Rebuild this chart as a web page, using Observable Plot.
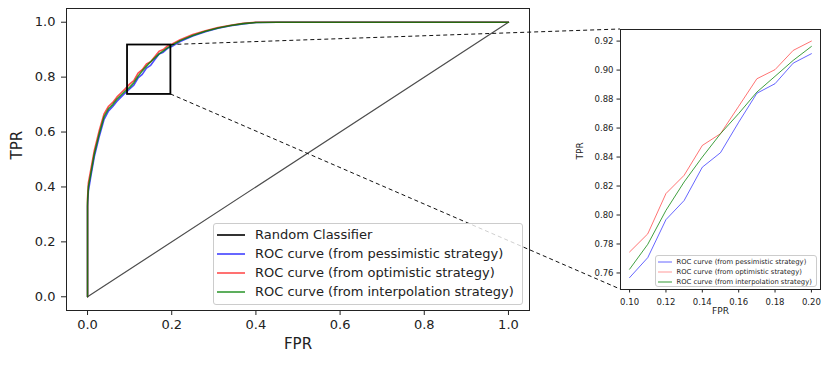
<!DOCTYPE html>
<html><head><meta charset="utf-8">
<script src="https://cdn.jsdelivr.net/npm/d3@7"></script>
<script src="https://cdn.jsdelivr.net/npm/@observablehq/plot@0.6"></script>
<style>
html,body{margin:0;padding:0;background:#fff;}
#wrap{position:relative;width:831px;height:367px;font-family:"DejaVu Sans",sans-serif;overflow:hidden;background:#fff;}
#main,#inset{position:absolute;top:0;}
#main{left:0;} #inset{left:560px;}
#over{position:absolute;left:0;top:0;pointer-events:none;}
.legend{position:absolute;background:rgba(255,255,255,0.8);border:1px solid #cccccc;border-radius:3px;box-sizing:border-box;color:#222;}
.row{display:flex;align-items:center;white-space:nowrap;}
.sw{flex:none;}
</style></head><body>
<div id="wrap"><div id="main"></div><div id="inset"></div><svg id="over" width="831" height="367"></svg></div>
<script>
// ---------- data ----------
const seriesNames = ["Random Classifier", "ROC curve (from pessimistic strategy)", "ROC curve (from optimistic strategy)", "ROC curve (from interpolation strategy)"];
const seriesColors = ["#000000", "#0000ff", "#ff0000", "#008000"];
const seriesOpacity = [0.7, 0.7, 0.7, 0.8];

const randomFpr = [0, 1];
const randomTpr = [0, 1];

// main ROC curves: head, zoomed segment, tail
const fprHead = [0, 0, 0.002, 0.008, 0.016, 0.028, 0.039, 0.05, 0.06, 0.07, 0.08, 0.09];
const tprPessHead = [0, 0.33, 0.385, 0.44, 0.51, 0.585, 0.645, 0.677, 0.693, 0.712, 0.728, 0.743];
const tprOptHead  = [0, 0.36, 0.415, 0.465, 0.532, 0.607, 0.665, 0.694, 0.708, 0.728, 0.743, 0.758];
const tprIntHead  = [0, 0.345, 0.40, 0.45, 0.52, 0.595, 0.655, 0.685, 0.70, 0.72, 0.735, 0.75];

const fprZoom = [0.10, 0.11, 0.12, 0.13, 0.14, 0.15, 0.16, 0.17, 0.18, 0.19, 0.20];
const tprPessZoom = [0.7568, 0.7706, 0.7968, 0.810, 0.833, 0.8430, 0.864, 0.884, 0.8906, 0.9048, 0.9113];
const tprOptZoom  = [0.7745, 0.787, 0.8148, 0.8274, 0.848, 0.8561, 0.875, 0.894, 0.9003, 0.9136, 0.920];
const tprIntZoom  = [0.7626, 0.7798, 0.8032, 0.8228, 0.840, 0.8561, 0.870, 0.8848, 0.8957, 0.9067, 0.9163];

const fprTail = [0.22, 0.25, 0.28, 0.31, 0.34, 0.37, 0.40, 0.45, 1.0];
const tprPessTail = [0.930, 0.950, 0.965, 0.978, 0.987, 0.994, 0.999, 1.0, 1.0];
const tprOptTail  = [0.936, 0.955, 0.969, 0.981, 0.989, 0.996, 1.0, 1.0, 1.0];
const tprIntTail  = [0.933, 0.952, 0.967, 0.979, 0.988, 0.995, 0.999, 1.0, 1.0];

const mainTicks = [0, 0.2, 0.4, 0.6, 0.8, 1.0];
const insetXTicks = [0.10, 0.12, 0.14, 0.16, 0.18, 0.20];
const insetYTicks = [0.76, 0.78, 0.80, 0.82, 0.84, 0.86, 0.88, 0.90, 0.92];
const mainDomain = [-0.05, 1.05];
const insetXDomain = [0.095, 0.205];
const insetYDomain = [0.7486, 0.928];
const zoomBox = {x1: 0.095, x2: 0.198, y1: 0.737, y2: 0.917};

// ---------- build ----------
const mk = (xs, ys) => xs.map((x, i) => ({x, y: ys[i]}));
const randomData = mk(randomFpr, randomTpr);
const pess = mk(fprHead.concat(fprZoom, fprTail), tprPessHead.concat(tprPessZoom, tprPessTail));
const opt  = mk(fprHead.concat(fprZoom, fprTail), tprOptHead.concat(tprOptZoom, tprOptTail));
const intp = mk(fprHead.concat(fprZoom, fprTail), tprIntHead.concat(tprIntZoom, tprIntTail));
const pessZ = mk(fprZoom, tprPessZoom), optZ = mk(fprZoom, tprOptZoom), intZ = mk(fprZoom, tprIntZoom);

const H = 367;
const main = Plot.plot({
  width: 545, height: H,
  marginLeft: 66, marginRight: 16, marginTop: 8, marginBottom: 57,
  style: {fontFamily: "DejaVu Sans", fontSize: "13px", color: "#222", background: "transparent", overflow: "visible"},
  x: {domain: mainDomain, ticks: mainTicks, tickFormat: d3.format(".1f"), tickSize: 5, tickPadding: 4, label: null},
  y: {domain: mainDomain, ticks: mainTicks, tickFormat: d3.format(".1f"), tickSize: 5, tickPadding: 6, label: null},
  marks: [
    Plot.line(randomData, {x: "x", y: "y", stroke: seriesColors[0], strokeOpacity: seriesOpacity[0], strokeWidth: 1.2}),
    Plot.line(pess, {x: "x", y: "y", stroke: seriesColors[1], strokeOpacity: seriesOpacity[1], strokeWidth: 1.6}),
    Plot.line(opt,  {x: "x", y: "y", stroke: seriesColors[2], strokeOpacity: seriesOpacity[2], strokeWidth: 1.6}),
    Plot.line(intp, {x: "x", y: "y", stroke: seriesColors[3], strokeOpacity: seriesOpacity[3], strokeWidth: 1.6}),
    Plot.rect([zoomBox], {x1: "x1", x2: "x2", y1: "y1", y2: "y2", fill: "none", stroke: "black", strokeWidth: 1.8}),
    Plot.frame({stroke: "#222", strokeWidth: 1}),
    Plot.text(["FPR"], {text: d => d, frameAnchor: "bottom", dy: 38, fontSize: 15, fill: "#222"}),
    Plot.text(["TPR"], {text: d => d, frameAnchor: "left", dx: -49, rotate: -90, fontSize: 15, fill: "#222"})
  ]
});
document.getElementById("main").appendChild(main);

const inset = Plot.plot({
  width: 271, height: H,
  marginLeft: 60, marginRight: 11, marginTop: 29, marginBottom: 78,
  style: {fontFamily: "DejaVu Sans", fontSize: "8.5px", color: "#222", background: "transparent", overflow: "visible"},
  x: {domain: insetXDomain, ticks: insetXTicks, tickFormat: d3.format(".2f"), tickSize: 3.5, tickPadding: 6, label: null},
  y: {domain: insetYDomain, ticks: insetYTicks, tickFormat: d3.format(".2f"), tickSize: 3.5, tickPadding: 3.5, label: null},
  marks: [
    Plot.line(pessZ, {x: "x", y: "y", stroke: seriesColors[1], strokeOpacity: 0.6, strokeWidth: 1}),
    Plot.line(optZ,  {x: "x", y: "y", stroke: seriesColors[2], strokeOpacity: 0.55, strokeWidth: 1}),
    Plot.line(intZ,  {x: "x", y: "y", stroke: seriesColors[3], strokeOpacity: 0.75, strokeWidth: 1}),
    Plot.frame({stroke: "#222", strokeWidth: 1}),
    Plot.text(["FPR"], {text: d => d, frameAnchor: "bottom", dy: 24, fontSize: 9, fill: "#222"}),
    Plot.text(["TPR"], {text: d => d, frameAnchor: "left", dx: -40, rotate: -90, fontSize: 9, fill: "#222"})
  ]
});
document.getElementById("inset").appendChild(inset);

// ---------- connector lines via plot scales ----------
function scaleFn(plot, name) {
  const s = plot.scale(name);
  if (s && typeof s.apply === "function") return v => s.apply(v);
  return d3.scaleLinear(s.domain, s.range);
}
const msx = scaleFn(main, "x"), msy = scaleFn(main, "y");
const isx = scaleFn(inset, "x"), isy = scaleFn(inset, "y");
const insetLeft = 560;
const over = d3.select("#over");
const conns = [
  [msx(zoomBox.x2), msy(zoomBox.y2), insetLeft + isx(insetXDomain[0]), isy(insetYDomain[1])],
  [msx(zoomBox.x2), msy(zoomBox.y1), insetLeft + isx(insetXDomain[0]), isy(insetYDomain[0])]
];
over.selectAll("line").data(conns).join("line")
  .attr("x1", d => d[0]).attr("y1", d => d[1]).attr("x2", d => d[2]).attr("y2", d => d[3])
  .attr("stroke", "#111").attr("stroke-width", 1).attr("stroke-dasharray", "4,3");

// ---------- legends ----------
function legend(opts) {
  const div = document.createElement("div");
  div.className = "legend";
  Object.assign(div.style, {left: opts.left + "px", top: opts.top + "px", width: opts.width + "px", height: opts.height + "px", paddingTop: opts.padTop + "px", fontSize: opts.fontSize + "px"});
  opts.items.forEach(i => {
    const row = document.createElement("div");
    row.className = "row";
    row.style.height = opts.rowH + "px";
    const ns = "http://www.w3.org/2000/svg";
    const sw = document.createElementNS(ns, "svg");
    sw.setAttribute("class", "sw");
    sw.setAttribute("width", opts.swW);
    sw.setAttribute("height", 6);
    sw.style.marginLeft = opts.swLeft + "px";
    sw.style.marginRight = opts.gap + "px";
    const ln = document.createElementNS(ns, "line");
    ln.setAttribute("x1", 0); ln.setAttribute("x2", opts.swW);
    ln.setAttribute("y1", 3); ln.setAttribute("y2", 3);
    ln.setAttribute("stroke", seriesColors[i]);
    ln.setAttribute("stroke-opacity", opts.op[i]);
    ln.setAttribute("stroke-width", opts.swH);
    sw.appendChild(ln);
    const tx = document.createElement("span");
    tx.textContent = seriesNames[i];
    row.appendChild(sw); row.appendChild(tx);
    div.appendChild(row);
  });
  document.getElementById("wrap").appendChild(div);
}
legend({left: 213, top: 223, width: 310, height: 82, padTop: 1, fontSize: 13, rowH: 19, swLeft: 3, swW: 28, swH: 1.6, gap: 10, items: [0, 1, 2, 3], op: [1, 0.75, 0.7, 0.8]});
legend({left: 655, top: 255, width: 162, height: 32, padTop: 0.5, fontSize: 6.8, rowH: 10, swLeft: 1.5, swW: 14, swH: 1, gap: 5, items: [1, 2, 3], op: [0, 0.6, 0.4, 0.8]});
</script>
</body></html>
